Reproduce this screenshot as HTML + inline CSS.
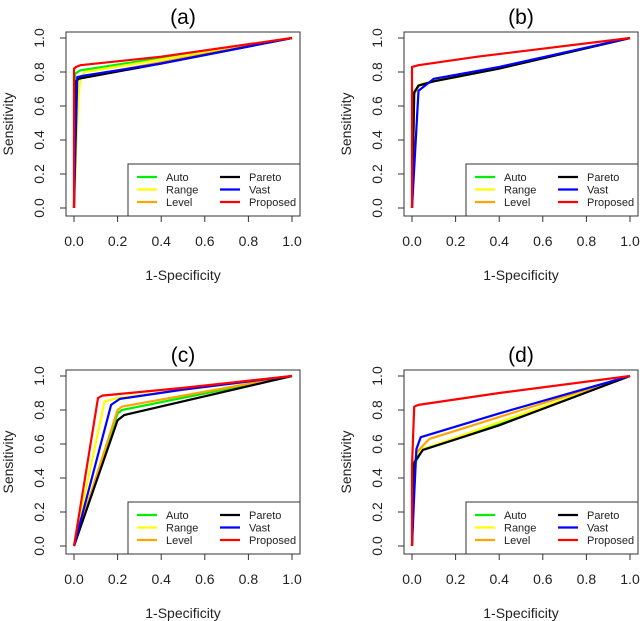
<!DOCTYPE html>
<html><head><meta charset="utf-8"><style>
html,body{margin:0;padding:0;background:#fff}
svg{display:block;font-family:"Liberation Sans",Arial,sans-serif}
</style></head><body>
<svg id="chart" width="640" height="621" viewBox="0 0 640 621" xmlns="http://www.w3.org/2000/svg"></svg>
<script>
const seriesNames = ["Auto","Range","Level","Pareto","Vast","Proposed"];
const seriesColors = ["#00ee00","#ffff00","#ffa500","#000000","#0000ff","#ff0000"];
const tickValues = [0,0.2,0.4,0.6,0.8,1.0];
const tickLabels = ["0.0","0.2","0.4","0.6","0.8","1.0"];
const panelTitles = ["(a)","(b)","(c)","(d)"];
const panelA = [
 [[0,0],[0.005,0.79],[0.03,0.81],[1,1]],
 [[0,0],[0.02,0.65],[0.03,0.77],[0.05,0.8],[1,1]],
 [[0,0],[0.01,0.74],[0.03,0.77],[1,1]],
 [[0,0],[0.005,0.74],[0.02,0.76],[0.4,0.85],[1,1]],
 [[0,0],[0.015,0.77],[0.05,0.78],[0.4,0.85],[1,1]],
 [[0,0],[0,0.82],[0.01,0.83],[0.03,0.84],[0.4,0.89],[1,1]]
];
const panelB = [
 [[0,0],[0.01,0.67],[0.03,0.72],[0.1,0.745],[0.4,0.82],[1,1]],
 [[0,0],[0.01,0.67],[0.03,0.725],[0.1,0.75],[0.4,0.82],[1,1]],
 [[0,0],[0.01,0.67],[0.03,0.72],[0.1,0.745],[0.4,0.82],[1,1]],
 [[0,0],[0.01,0.68],[0.03,0.72],[0.1,0.745],[0.4,0.82],[1,1]],
 [[0,0],[0.03,0.69],[0.1,0.76],[0.4,0.83],[1,1]],
 [[0,0],[0,0.83],[0.03,0.84],[0.3,0.89],[1,1]]
];
const panelC = [
 [[0,0],[0.2,0.78],[0.22,0.8],[1,1]],
 [[0,0],[0.14,0.85],[0.2,0.87],[1,1]],
 [[0,0],[0.2,0.8],[0.22,0.82],[1,1]],
 [[0,0],[0.2,0.74],[0.23,0.77],[1,1]],
 [[0,0],[0.17,0.83],[0.21,0.865],[0.5,0.92],[1,1]],
 [[0,0],[0.11,0.87],[0.13,0.885],[0.5,0.93],[1,1]]
];
const panelD = [
 [[0,0],[0.01,0.48],[0.05,0.57],[0.4,0.72],[1,1]],
 [[0,0],[0.01,0.5],[0.03,0.55],[0.05,0.57],[1,1]],
 [[0,0],[0.01,0.47],[0.02,0.55],[0.08,0.63],[1,1]],
 [[0,0],[0.01,0.49],[0.02,0.51],[0.05,0.565],[0.4,0.71],[1,1]],
 [[0,0],[0.01,0.3],[0.02,0.57],[0.04,0.64],[0.4,0.78],[1,1]],
 [[0,0],[0,0.47],[0.01,0.82],[0.03,0.83],[0.4,0.9],[1,1]]
];
const panelData = [panelA,panelB,panelC,panelD];
const NS="http://www.w3.org/2000/svg";
const svg=document.getElementById('chart');
function mk(tag,attrs,parent){const e=document.createElementNS(NS,tag);for(const k in attrs)e.setAttribute(k,attrs[k]);parent.appendChild(e);return e;}
const layouts=[{dx:0,dy:0},{dx:338,dy:0},{dx:0,dy:338},{dx:338,dy:338}];
layouts.forEach((L,pi)=>{
 const g=mk('g',{},svg);
 
 
 const bx0=66+L.dx,bx1=300+L.dx,by0=32+L.dy,by1=216+L.dy;
 const X=v=>74+L.dx+v*(218);
 const Y=v=>208+L.dy-v*170;
 const t=mk('text',{x:(bx0+bx1)/2,y:24+L.dy,'text-anchor':'middle','font-size':21,fill:'#000'},g);
 t.textContent=panelTitles[pi];
 
 
 panelData[pi].forEach((pts,si)=>{
  const p=mk('polyline',{points:pts.map(q=>X(q[0]).toFixed(1)+','+Y(q[1]).toFixed(1)).join(' '),fill:'none',stroke:seriesColors[si],'stroke-width':2.2,'stroke-linejoin':'round'},g);
  
  
 });
 const box=mk('rect',{x:bx0,y:by0,width:bx1-bx0,height:by1-by0,fill:'none',stroke:'#333','stroke-width':1},g);
 
 
 tickValues.forEach((v,i)=>{
  mk('line',{x1:X(v),x2:X(v),y1:by1,y2:by1+6,stroke:'#333'},g);
  const xl=mk('text',{x:X(v),y:by1+30,'text-anchor':'middle','font-size':14,fill:'#222'},g);
  xl.textContent=tickLabels[i];
  
  
  mk('line',{x1:bx0,x2:bx0-6,y1:Y(v),y2:Y(v),stroke:'#333'},g);
  const yl=mk('text',{x:0,y:0,'text-anchor':'middle','font-size':14,fill:'#222',transform:`translate(${bx0-22},${Y(v)}) rotate(-90)`},g);
  yl.textContent=tickLabels[i];
  
  
 });
 const xt=mk('text',{x:(bx0+bx1)/2,y:by1+64,'text-anchor':'middle','font-size':14,fill:'#222'},g);
 xt.textContent='1-Specificity';
 
 
 const yt=mk('text',{x:0,y:0,'text-anchor':'middle','font-size':14,fill:'#222',transform:`translate(${bx0-53},${(by0+by1)/2}) rotate(-90)`},g);
 yt.textContent='Sensitivity';
 
 
 const lg=mk('g',{},g);
 
 
 const lx=128+L.dx,ly=164+L.dy;
 mk('rect',{x:lx,y:ly,width:bx1-lx,height:by1-ly,fill:'#fff',stroke:'#333','stroke-width':1},lg);
 seriesNames.forEach((n,si)=>{
  const col=Math.floor(si/3),row=si%3;
  const sx=lx+9+col*83, sy=ly+13+row*12.5;
  const ln=mk('line',{x1:sx,x2:sx+20,y1:sy,y2:sy,stroke:seriesColors[si],'stroke-width':2.2},lg);
  
  
  const tx=mk('text',{x:sx+29,y:sy+4,'font-size':11,fill:'#222'},lg);
  tx.textContent=n;
  
  
 });
});
</script>
</body></html>
